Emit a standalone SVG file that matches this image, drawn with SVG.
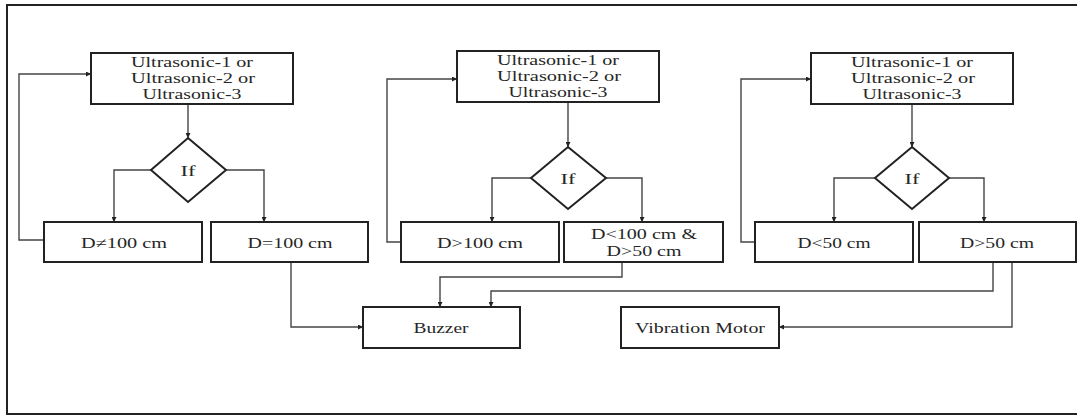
<svg xmlns="http://www.w3.org/2000/svg" width="1077" height="416" viewBox="0 0 1077 416">
<style>
.box{fill:#fff;stroke:#222;stroke-width:2}
.dia{fill:#fff;stroke:#222;stroke-width:2}
.con{fill:none;stroke:#444;stroke-width:1.4}
.t{font-family:'Liberation Serif','DejaVu Serif',serif;font-size:14px;fill:#262626;text-anchor:middle}
</style>
<defs>
<marker id="ah" viewBox="0 0 10 10" refX="10" refY="5" markerWidth="5" markerHeight="5" orient="auto" markerUnits="userSpaceOnUse">
<path d="M0,0 L10,5 L0,10 z" fill="#222"/>
</marker>
</defs>
<rect x="7" y="5" width="1072" height="409" fill="#fff" stroke="#222" stroke-width="2"/>
<g id="connectors" class="con" marker-end="url(#ah)">
<path d="M188,104 V138"/>
<path d="M151,170 H114 V222"/>
<path d="M226,170 H264 V222"/>
<path d="M44,240 H19 V74 H91"/>
<path d="M291,262 V327 H363"/>
<path d="M568,102 V147"/>
<path d="M531,178 H492 V222"/>
<path d="M606,178 H642 V222"/>
<path d="M401,242 H387 V79 H457"/>
<path d="M622,262 V277 H440 V307"/>
<path d="M912,104 V147"/>
<path d="M875,178 H834 V222"/>
<path d="M949,178 H984 V222"/>
<path d="M755,242 H741 V79 H811"/>
<path d="M993,262 V291 H491 V307"/>
<path d="M1012,262 V327 H779"/>
</g>
<g class="t" font-family="Liberation Serif, DejaVu Serif, serif">
<g id="sensor1">
<rect class="box" x="91" y="53" width="202" height="51"/>
<text x="192" y="67" textLength="122" lengthAdjust="spacingAndGlyphs">Ultrasonic-1 or</text>
<text x="193" y="83" textLength="124" lengthAdjust="spacingAndGlyphs">Ultrasonic-2 or</text>
<text x="192" y="99" textLength="99" lengthAdjust="spacingAndGlyphs">Ultrasonic-3</text>
</g>
<g id="if1">
<path class="dia" d="M188,138 L226,170 L188,202 L151,170 Z"/>
<text x="188" y="176" textLength="15" lengthAdjust="spacingAndGlyphs">If</text>
</g>
<g id="dne100">
<rect class="box" x="44" y="222" width="158" height="40"/>
<text x="124" y="248" textLength="86" lengthAdjust="spacingAndGlyphs">D≠100 cm</text>
</g>
<g id="deq100">
<rect class="box" x="211" y="222" width="157" height="40"/>
<text x="290" y="248" textLength="85" lengthAdjust="spacingAndGlyphs">D=100 cm</text>
</g>
<g id="sensor2">
<rect class="box" x="457" y="51" width="202" height="51"/>
<text x="558" y="65" textLength="122" lengthAdjust="spacingAndGlyphs">Ultrasonic-1 or</text>
<text x="559" y="81" textLength="124" lengthAdjust="spacingAndGlyphs">Ultrasonic-2 or</text>
<text x="558" y="97" textLength="99" lengthAdjust="spacingAndGlyphs">Ultrasonic-3</text>
</g>
<g id="if2">
<path class="dia" d="M568,147 L606,178 L568,209 L531,178 Z"/>
<text x="568" y="184" textLength="15" lengthAdjust="spacingAndGlyphs">If</text>
</g>
<g id="dgt100">
<rect class="box" x="401" y="222" width="158" height="40"/>
<text x="480" y="248" textLength="86" lengthAdjust="spacingAndGlyphs">D&gt;100 cm</text>
</g>
<g id="dlt100">
<rect class="box" x="564" y="222" width="159" height="40"/>
<text x="644" y="239" textLength="106" lengthAdjust="spacingAndGlyphs">D&lt;100 cm &amp;</text>
<text x="644" y="256" textLength="75" lengthAdjust="spacingAndGlyphs">D&gt;50 cm</text>
</g>
<g id="sensor3">
<rect class="box" x="811" y="53" width="202" height="51"/>
<text x="912" y="67" textLength="122" lengthAdjust="spacingAndGlyphs">Ultrasonic-1 or</text>
<text x="913" y="83" textLength="124" lengthAdjust="spacingAndGlyphs">Ultrasonic-2 or</text>
<text x="912" y="99" textLength="99" lengthAdjust="spacingAndGlyphs">Ultrasonic-3</text>
</g>
<g id="if3">
<path class="dia" d="M912,147 L949,178 L912,209 L875,178 Z"/>
<text x="912" y="184" textLength="15" lengthAdjust="spacingAndGlyphs">If</text>
</g>
<g id="dlt50">
<rect class="box" x="755" y="222" width="158" height="40"/>
<text x="834" y="248" textLength="73" lengthAdjust="spacingAndGlyphs">D&lt;50 cm</text>
</g>
<g id="dgt50">
<rect class="box" x="919" y="222" width="157" height="40"/>
<text x="997" y="248" textLength="74" lengthAdjust="spacingAndGlyphs">D&gt;50 cm</text>
</g>
<g id="buzzer">
<rect class="box" x="363" y="307" width="157" height="41"/>
<text x="441" y="333" textLength="55" lengthAdjust="spacingAndGlyphs">Buzzer</text>
</g>
<g id="vibration">
<rect class="box" x="621" y="307" width="158" height="41"/>
<text x="700" y="333" textLength="130" lengthAdjust="spacingAndGlyphs">Vibration Motor</text>
</g>
</g>
</svg>
